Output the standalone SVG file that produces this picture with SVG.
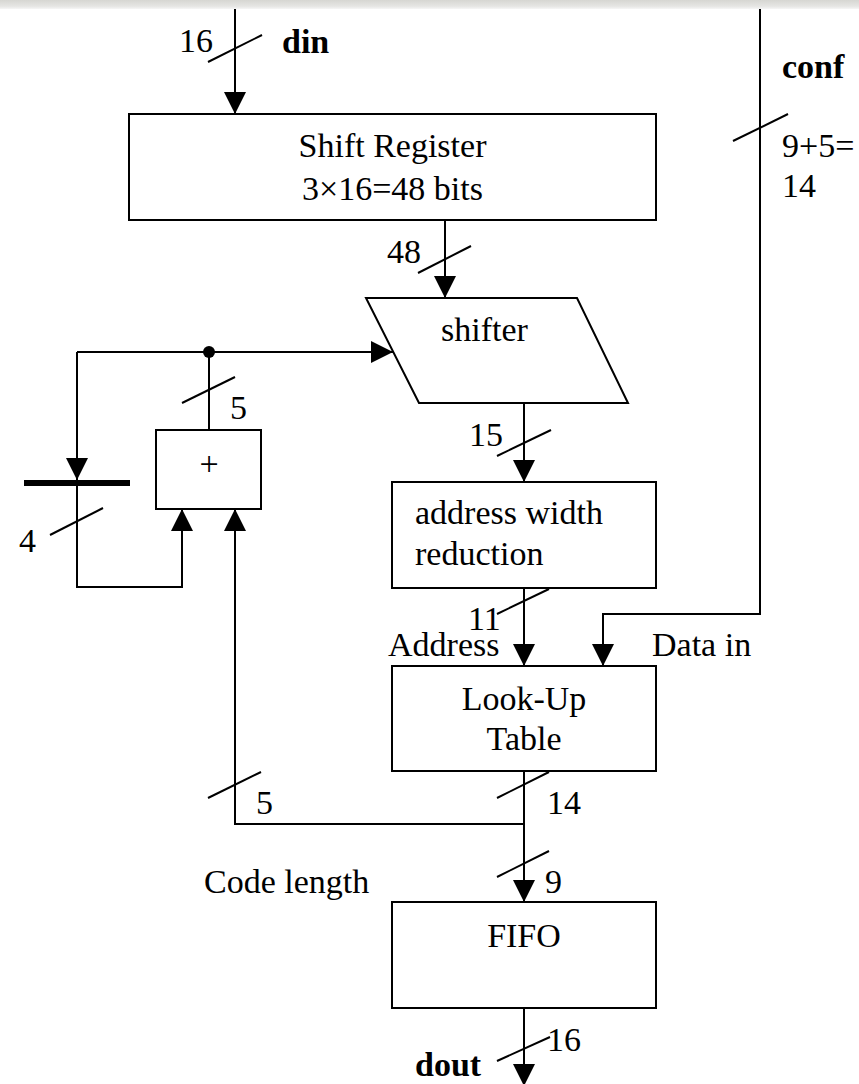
<svg xmlns="http://www.w3.org/2000/svg" width="859" height="1084" viewBox="0 0 859 1084">
<defs>
<linearGradient id="band" x1="0" y1="0" x2="0" y2="1">
<stop offset="0" stop-color="#d6d6d2"/>
<stop offset="0.7" stop-color="#e6e6e4"/>
<stop offset="1" stop-color="#f6f6f6"/>
</linearGradient>
<marker id="arr" markerUnits="userSpaceOnUse" markerWidth="22" markerHeight="22" refX="22" refY="11" orient="auto">
<path d="M0,0 L22,11 L0,22 Z" fill="#000"/>
</marker>
<style>
.box{fill:#fff;stroke:#000;stroke-width:2}
.w{fill:none;stroke:#000;stroke-width:2}
.a{marker-end:url(#arr)}
.t{font-family:"Liberation Serif","Times New Roman",serif;font-size:34px;fill:#000}
.b{font-weight:bold}
.c{text-anchor:middle}
</style>
</defs>
<rect x="0" y="0" width="859" height="1084" fill="#fff"/>
<rect x="0" y="0" width="859" height="9" fill="url(#band)"/>

<g id="connectors">
<path class="w a" d="M235,9 V114"/>
<path class="w a" d="M445,220 V298"/>
<path class="w a" d="M524,403 V482"/>
<path class="w a" d="M524,588 V666"/>
<path class="w a" d="M760,9 V614 H603 V666"/>
<path class="w a" d="M524,771 V902"/>
<path class="w a" d="M524,824 H235 V509"/>
<path class="w" d="M209,430 V352"/>
<path class="w a" d="M77,352 H393"/>
<path class="w a" d="M77,352 V480"/>
<path class="w a" d="M77,483 V587 H182 V509"/>
<path class="w a" d="M524,1008 V1086"/>
<circle cx="209" cy="352" r="6" fill="#000"/>
<g id="ticks" class="w">
<line x1="208" y1="62" x2="262" y2="35"/>
<line x1="418" y1="273" x2="471" y2="246"/>
<line x1="497" y1="456" x2="551" y2="430"/>
<line x1="497" y1="614" x2="549" y2="589"/>
<line x1="733" y1="141" x2="788" y2="114"/>
<line x1="497" y1="798" x2="549" y2="772"/>
<line x1="497" y1="877" x2="549" y2="851"/>
<line x1="208" y1="798" x2="261" y2="772"/>
<line x1="182" y1="403" x2="235" y2="377"/>
<line x1="50" y1="535" x2="103" y2="508"/>
<line x1="497" y1="1061" x2="550" y2="1037"/>
</g>
<g id="labels" class="t">
<text x="179" y="52">16</text>
<text class="b" x="282" y="53">din</text>
<text class="b" x="782" y="78">conf</text>
<text x="782" y="157">9+5=</text>
<text x="782" y="197">14</text>
<text x="387" y="263">48</text>
<text x="230" y="419">5</text>
<text x="19" y="552">4</text>
<text x="469" y="446">15</text>
<text x="468" y="630">11</text>
<text x="388" y="656">Address</text>
<text x="652" y="656">Data in</text>
<text x="547" y="814">14</text>
<text x="256" y="814">5</text>
<text x="545" y="893">9</text>
<text x="204" y="893">Code length</text>
<text x="547" y="1051">16</text>
<text class="b" x="415" y="1076">dout</text>
</g>
</g>

<g id="shift-register">
<rect class="box" x="129" y="114" width="527" height="106"/>
<text class="t c" x="392.5" y="157">Shift Register</text>
<text class="t c" x="392.5" y="200">3×16=48 bits</text>
</g>

<g id="shifter">
<polygon class="box" points="366,298 577,298 628,403 419,403"/>
<text class="t" x="441" y="341">shifter</text>
</g>

<g id="adder">
<rect class="box" x="156" y="430" width="105" height="79"/>
<text class="t c" x="209" y="475">+</text>
</g>

<g id="register">
<line x1="24" y1="483" x2="130" y2="483" stroke="#000" stroke-width="6"/>
</g>

<g id="address-width-reduction">
<rect class="box" x="392" y="482" width="264" height="106"/>
<text class="t" x="415" y="524">address width</text>
<text class="t" x="415" y="565">reduction</text>
</g>

<g id="lut">
<rect class="box" x="392" y="666" width="264" height="105"/>
<text class="t c" x="524" y="710">Look-Up</text>
<text class="t c" x="524" y="750">Table</text>
</g>

<g id="fifo">
<rect class="box" x="392" y="902" width="264" height="106"/>
<text class="t c" x="524" y="947">FIFO</text>
</g>
</svg>
